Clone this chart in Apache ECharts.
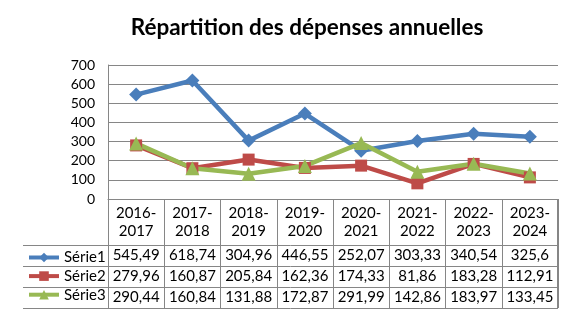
<!DOCTYPE html>
<html><head><meta charset="utf-8">
<script src="https://cdn.jsdelivr.net/npm/echarts@6/dist/echarts.min.js"></script>
<style>html,body{margin:0;padding:0;background:#fff}#c{width:568px;height:326px}</style>
</head><body><div id="c"></div>
<script>
const categories = ['2016-2017','2017-2018','2018-2019','2019-2020','2020-2021','2021-2022','2022-2023','2023-2024'];
const serie1 = [545.49, 618.74, 304.96, 446.55, 252.07, 303.33, 340.54, 325.6];
const serie2 = [279.96, 160.87, 205.84, 162.36, 174.33, 81.86, 183.28, 112.91];
const serie3 = [290.44, 160.84, 131.88, 172.87, 291.99, 142.86, 183.97, 133.45];
const seriesNames = ['Série1','Série2','Série3'];
const yTicks = [0, 100, 200, 300, 400, 500, 600, 700];

const FONT = 'Lato';
const colors = ['#4A7EBB', '#BE4B48', '#98B954'];
const allSeries = [serie1, serie2, serie3];
const symbols = ['diamond', 'rect', 'triangle'];
const symSizes = [14, 12, 14];
const fmt = v => String(v).replace('.', ',');

const GRID = {left: 108, right: 10, top: 65, bottom: 127};
const headerH = 46, rowH = 21;

const chart = echarts.init(document.getElementById('c'), null, {renderer: 'canvas'});

const xAxes = [{
  type: 'category', data: categories, boundaryGap: true, position: 'bottom',
  axisLine: {show: true, lineStyle: {color: '#868686', width: 1}},
  axisTick: {show: true, interval: 0, length: headerH + 3 * rowH, lineStyle: {color: '#868686'}},
  axisLabel: {interval: 0, margin: 5, color: '#000', fontFamily: FONT, fontSize: 15, lineHeight: 18,
    formatter: v => v.replace('-', '-\n')}
}];
allSeries.forEach((arr, i) => {
  xAxes.push({
    type: 'category', data: categories, boundaryGap: true, position: 'bottom',
    offset: headerH + i * rowH,
    axisLine: {show: false}, axisTick: {show: false},
    axisLabel: {interval: 0, margin: 0, color: '#000', fontFamily: FONT, fontSize: 15, lineHeight: rowH,
      formatter: (v, idx) => fmt(arr[idx])}
  });
});

const option = {
  animation: false,
  title: {
    text: 'Répartition des dépenses annuelles', left: 302, top: 11, textAlign: 'center',
    textStyle: {fontFamily: FONT, fontWeight: 'bold', fontSize: 22.5, color: '#000'}
  },
  legend: {
    orient: 'vertical', left: 27, top: 199 + headerH + 3.5, padding: 0, itemGap: 0.6, itemWidth: 30, itemHeight: 12,
    data: seriesNames,
    lineStyle: {width: 4},
    textStyle: {fontFamily: FONT, fontSize: 15, lineHeight: 18, color: '#000'}
  },
  grid: GRID,
  xAxis: xAxes,
  yAxis: {
    type: 'value', min: yTicks[0], max: yTicks[yTicks.length - 1], interval: 100,
    axisLine: {show: true, lineStyle: {color: '#868686'}}, axisTick: {show: false},
    splitLine: {show: true, lineStyle: {color: '#868686', width: 1}},
    axisLabel: {color: '#000', fontFamily: FONT, fontSize: 14, margin: 13}
  },
  series: allSeries.map((arr, i) => ({
    name: seriesNames[i], type: 'line', xAxisIndex: 0, data: arr,
    symbol: symbols[i], symbolSize: symSizes[i], showSymbol: true,
    lineStyle: {color: colors[i], width: 4.5},
    itemStyle: {color: colors[i]}
  })),
  graphic: []
};
chart.setOption(option);

// table borders
const x1 = 568 - GRID.right, yBase = 326 - GRID.bottom;
const lines = [];
const lineStyle = {stroke: '#868686', lineWidth: 1};
for (let r = 0; r <= 3; r++) {
  const y = yBase + headerH + r * rowH + 0.5;
  lines.push({type: 'line', shape: {x1: 23, y1: y, x2: x1, y2: y}, style: lineStyle, silent: true, z: -1});
}
lines.push({type: 'line', shape: {x1: x1 - 0.5, y1: yBase, x2: x1 - 0.5, y2: yBase + headerH + 3 * rowH}, style: lineStyle, silent: true});
chart.setOption({graphic: lines});
</script></body></html>
